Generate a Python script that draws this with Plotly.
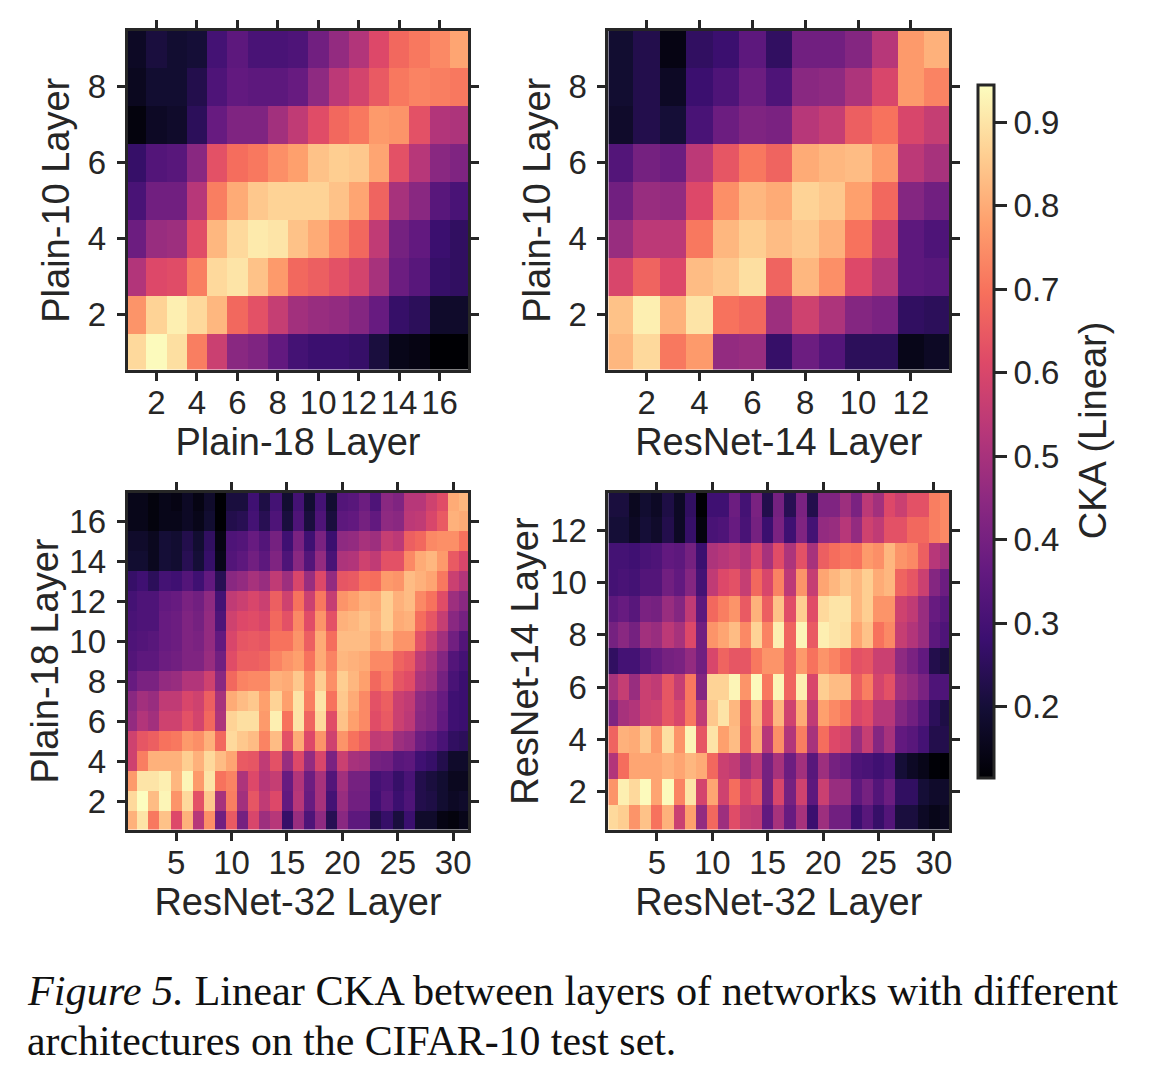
import plotly.graph_objects as go

# Rows listed top to bottom, as seen in the picture
plain10_vs_plain18 = [
 [.17,.21,.19,.20,.30,.35,.31,.31,.32,.39,.46,.52,.61,.68,.71,.74,.79],
 [.16,.19,.19,.23,.32,.36,.35,.35,.37,.45,.54,.59,.65,.71,.73,.72,.71],
 [.13,.17,.18,.25,.37,.42,.42,.49,.55,.62,.68,.71,.77,.76,.63,.52,.51],
 [.27,.33,.34,.44,.63,.69,.71,.75,.78,.84,.86,.85,.79,.63,.53,.44,.42],
 [.31,.39,.39,.53,.72,.80,.85,.87,.87,.87,.84,.79,.67,.50,.44,.34,.31],
 [.38,.47,.48,.62,.82,.88,.91,.90,.84,.80,.74,.68,.55,.40,.36,.28,.26],
 [.52,.61,.62,.72,.88,.90,.84,.77,.68,.66,.63,.59,.50,.38,.34,.27,.26],
 [.76,.87,.92,.88,.82,.68,.63,.56,.49,.47,.46,.43,.37,.27,.25,.18,.18],
 [.88,.94,.89,.72,.57,.44,.42,.36,.30,.28,.28,.27,.21,.15,.14,.115,.115],
]
plain10_vs_resnet14 = [
 [.19,.23,.14,.26,.28,.35,.26,.39,.39,.43,.53,.77,.81],
 [.19,.23,.17,.28,.32,.38,.32,.44,.45,.51,.60,.77,.73],
 [.18,.23,.20,.31,.38,.42,.41,.53,.56,.66,.70,.60,.56],
 [.33,.40,.38,.54,.64,.71,.67,.80,.82,.83,.77,.54,.50],
 [.39,.47,.46,.61,.75,.82,.80,.87,.85,.78,.68,.43,.39],
 [.47,.54,.54,.71,.82,.86,.83,.85,.81,.70,.59,.35,.32],
 [.60,.67,.61,.83,.85,.89,.67,.82,.75,.61,.53,.35,.34],
 [.84,.92,.81,.90,.70,.68,.48,.58,.51,.43,.41,.26,.25],
 [.82,.88,.71,.77,.46,.47,.27,.38,.33,.25,.25,.15,.17],
]
plain18_vs_resnet32 = [
 [.15,.15,.13,.15,.14,.17,.14,.18,.115,.21,.21,.29,.22,.30,.19,.30,.19,.30,.19,.33,.34,.38,.32,.44,.42,.53,.53,.58,.62,.80,.82],
 [.15,.15,.13,.15,.15,.17,.15,.19,.115,.23,.24,.30,.24,.32,.21,.32,.21,.32,.21,.35,.36,.40,.36,.45,.44,.54,.55,.60,.65,.81,.80],
 [.18,.18,.16,.20,.19,.23,.19,.26,.14,.32,.33,.37,.33,.40,.29,.41,.29,.41,.28,.45,.46,.50,.48,.56,.54,.66,.68,.74,.75,.75,.70],
 [.19,.19,.16,.20,.19,.24,.20,.27,.15,.33,.35,.39,.35,.42,.32,.44,.33,.46,.31,.51,.52,.58,.55,.63,.63,.74,.80,.82,.77,.65,.60],
 [.27,.29,.25,.30,.29,.33,.29,.36,.24,.44,.46,.50,.47,.55,.48,.60,.47,.61,.46,.64,.65,.70,.69,.77,.76,.83,.81,.79,.71,.57,.52],
 [.30,.32,.32,.36,.37,.41,.39,.45,.30,.55,.57,.60,.57,.66,.58,.70,.57,.71,.56,.76,.78,.81,.80,.86,.81,.83,.74,.70,.62,.48,.44],
 [.31,.32,.32,.37,.38,.42,.40,.46,.32,.58,.61,.62,.60,.68,.63,.74,.62,.76,.63,.81,.82,.84,.81,.86,.80,.81,.69,.64,.56,.44,.40],
 [.32,.33,.34,.37,.38,.42,.41,.46,.36,.60,.64,.65,.64,.70,.70,.76,.66,.80,.69,.83,.83,.83,.79,.82,.76,.76,.63,.56,.49,.39,.33],
 [.33,.35,.35,.38,.39,.42,.42,.47,.39,.62,.66,.66,.67,.73,.76,.78,.70,.80,.73,.82,.81,.80,.74,.74,.67,.65,.55,.50,.43,.33,.30],
 [.37,.41,.41,.46,.47,.52,.52,.58,.44,.68,.73,.74,.74,.81,.80,.85,.74,.86,.75,.86,.82,.78,.68,.72,.64,.62,.51,.48,.40,.31,.28],
 [.44,.49,.47,.55,.55,.60,.58,.66,.50,.80,.83,.85,.78,.87,.78,.90,.72,.90,.70,.85,.80,.74,.63,.66,.57,.55,.45,.42,.37,.29,.28],
 [.46,.52,.49,.58,.58,.63,.59,.68,.51,.87,.89,.89,.77,.92,.70,.90,.67,.88,.62,.84,.78,.74,.62,.65,.57,.54,.44,.42,.36,.29,.28],
 [.58,.64,.66,.70,.71,.77,.75,.81,.68,.88,.85,.83,.73,.83,.63,.80,.61,.76,.58,.76,.70,.66,.55,.56,.48,.46,.38,.35,.31,.26,.25],
 [.58,.72,.81,.81,.81,.86,.81,.88,.83,.79,.65,.64,.55,.63,.47,.61,.46,.60,.41,.57,.50,.49,.40,.39,.34,.35,.29,.27,.23,.18,.18],
 [.77,.90,.90,.92,.82,.93,.77,.90,.70,.73,.51,.61,.53,.56,.37,.52,.38,.50,.33,.49,.40,.40,.30,.32,.27,.31,.23,.21,.19,.16,.16],
 [.88,.945,.83,.93,.76,.88,.63,.85,.50,.72,.49,.64,.55,.61,.36,.53,.37,.50,.30,.47,.39,.39,.29,.34,.28,.32,.23,.22,.19,.17,.18],
 [.81,.90,.71,.84,.61,.81,.53,.75,.39,.65,.40,.60,.48,.53,.27,.47,.32,.45,.24,.44,.35,.35,.23,.27,.21,.28,.18,.18,.14,.13,.15],
]
resnet14_vs_resnet32 = [
 [.21,.21,.16,.19,.17,.22,.17,.26,.115,.29,.29,.38,.30,.41,.23,.40,.24,.41,.23,.42,.42,.48,.41,.54,.49,.61,.57,.63,.63,.72,.74],
 [.20,.20,.17,.20,.18,.23,.17,.27,.13,.31,.32,.37,.31,.40,.28,.41,.29,.42,.30,.46,.47,.53,.46,.58,.55,.63,.63,.68,.68,.72,.74],
 [.30,.30,.29,.31,.32,.36,.35,.40,.28,.51,.53,.55,.52,.60,.50,.62,.51,.63,.50,.66,.69,.71,.70,.77,.75,.82,.76,.74,.66,.53,.49],
 [.30,.31,.30,.33,.33,.39,.36,.43,.30,.55,.61,.63,.56,.68,.60,.73,.54,.76,.56,.79,.82,.85,.82,.86,.80,.82,.67,.64,.57,.43,.38],
 [.35,.37,.34,.41,.40,.47,.43,.55,.35,.68,.72,.76,.65,.81,.66,.84,.62,.86,.62,.88,.90,.90,.82,.86,.76,.76,.58,.55,.47,.37,.34],
 [.40,.44,.40,.49,.47,.54,.50,.61,.39,.76,.79,.83,.74,.87,.73,.92,.67,.93,.65,.92,.90,.89,.79,.84,.70,.74,.56,.52,.47,.35,.32],
 [.26,.30,.30,.34,.37,.40,.41,.46,.39,.60,.67,.64,.64,.71,.76,.76,.67,.77,.70,.76,.73,.69,.63,.64,.57,.57,.45,.41,.36,.23,.21],
 [.50,.56,.47,.57,.55,.64,.56,.71,.43,.87,.87,.93,.76,.94,.71,.93,.67,.92,.60,.86,.83,.83,.66,.72,.59,.63,.49,.46,.41,.32,.32],
 [.42,.50,.52,.57,.58,.64,.60,.71,.55,.85,.90,.82,.66,.82,.63,.82,.58,.80,.55,.78,.74,.71,.60,.62,.53,.53,.43,.39,.34,.25,.22],
 [.67,.81,.80,.85,.77,.89,.76,.93,.64,.90,.78,.83,.65,.80,.53,.75,.52,.72,.50,.69,.61,.59,.47,.56,.43,.50,.36,.34,.30,.23,.23],
 [.52,.69,.79,.79,.79,.81,.79,.82,.80,.68,.57,.55,.48,.54,.40,.50,.38,.49,.34,.48,.40,.38,.32,.31,.29,.31,.20,.17,.15,.12,.115],
 [.76,.92,.88,.94,.79,.94,.73,.90,.59,.79,.58,.69,.60,.64,.40,.60,.40,.58,.35,.57,.47,.47,.35,.40,.33,.38,.26,.26,.20,.18,.18],
 [.88,.86,.76,.84,.70,.81,.57,.78,.46,.68,.48,.62,.56,.55,.36,.50,.37,.50,.28,.48,.39,.39,.28,.34,.27,.33,.21,.21,.17,.15,.16],
]

titles_x = ["Plain-18 Layer", "ResNet-14 Layer", "ResNet-32 Layer", "ResNet-32 Layer"]
titles_y = ["Plain-10 Layer", "Plain-10 Layer", "Plain-18 Layer", "ResNet-14 Layer"]
ticks_x = [list(range(2, 17, 2)), list(range(2, 13, 2)), list(range(5, 31, 5)), list(range(5, 31, 5))]
ticks_y = [[2, 4, 6, 8], [2, 4, 6, 8], list(range(2, 17, 2)), list(range(2, 13, 2))]
colorbar_ticks = [.2, .3, .4, .5, .6, .7, .8, .9]
panels = [plain10_vs_plain18, plain10_vs_resnet14, plain18_vs_resnet32, resnet14_vs_resnet32]

W, H = 1166, 1070
INK = "#262626"
FONT = "Liberation Sans"
boxes = [(120, 461.5, 23, 361.5), (602, 943.5, 23, 361.5),
         (120, 461.5, 484.5, 821.5), (602, 943.5, 484.5, 821.5)]
y_title_standoff = [7, 7, 0, 0]

magma = ["#000004", "#140e36", "#3b0f70", "#641a80", "#8c2981", "#b73779",
         "#de4968", "#f7705c", "#fe9f6d", "#fecf92", "#fcfdbf"]
scale = [[i / 10, c] for i, c in enumerate(magma)]

fig = go.Figure()
layout = {}
for i, rows in enumerate(panels):
    n = "" if i == 0 else str(i + 1)
    nx, ny = len(rows[0]), len(rows)
    fig.add_trace(go.Heatmap(z=rows[::-1], x=list(range(1, nx + 1)), y=list(range(1, ny + 1)),
                             coloraxis="coloraxis", xaxis="x" + n, yaxis="y" + n))
    x0, x1, y0, y1 = boxes[i]
    # the frame sits on top of the outermost 1.5 px of the image, so the range is inset by that much
    inset_x = 1.5 / ((x1 - x0 + 3) / nx)
    inset_y = 1.5 / ((y1 - y0 + 3) / ny)
    common = dict(showgrid=False, zeroline=False, showline=True, linecolor=INK, linewidth=3,
                  mirror="ticks", ticks="outside", ticklen=8, tickwidth=3, tickcolor=INK,
                  tickfont=dict(family=FONT, size=33, color=INK), tickangle=0)
    layout["xaxis" + n] = dict(common, domain=[x0 / W, x1 / W], anchor="y" + n,
                               range=[.5 + inset_x, nx + .5 - inset_x], tickvals=ticks_x[i],
                               ticklabelstandoff=-6,
                               title=dict(text=titles_x[i], standoff=6,
                                          font=dict(family=FONT, size=38, color=INK)))
    layout["yaxis" + n] = dict(common, domain=[1 - y1 / H, 1 - y0 / H], anchor="x" + n,
                               range=[.5 + inset_y, ny + .5 - inset_y], tickvals=ticks_y[i],
                               ticklabelstandoff=4,
                               title=dict(text=titles_y[i], standoff=y_title_standoff[i],
                                          font=dict(family=FONT, size=38, color=INK)))

fig.update_layout(
    width=W, height=H, margin=dict(l=0, r=0, t=0, b=0),
    paper_bgcolor="white", plot_bgcolor="white",
    coloraxis=dict(colorscale=scale, cmin=.115, cmax=.945,
                   colorbar=dict(x=973 / W, xanchor="left", xref="paper", thickness=16,
                                 xpad=0, ypad=0,
                                 y=1 - 423 / H, yanchor="middle", lenmode="pixels", len=693,
                                 outlinewidth=3, outlinecolor=INK, ticks="outside", ticklen=12,
                                 tickwidth=3, tickcolor=INK, tickvals=colorbar_ticks,
                                 tickformat=".1f",
                                 tickfont=dict(family=FONT, size=33, color=INK))),
    annotations=[
        dict(text="CKA (Linear)", textangle=-90,
             x=1088 / W, y=1 - 422 / H, xref="paper", yref="paper", xanchor="center", yanchor="middle",
             showarrow=False, font=dict(family=FONT, size=38, color=INK)),
        dict(text="<i>Figure 5.</i> Linear CKA between layers of networks with different",
             x=17 / W, y=1 - 982 / H, xref="paper", yref="paper", xanchor="left", yanchor="middle",
             showarrow=False, font=dict(family="Liberation Serif", size=42.3, color="#111111")),
        dict(text="architectures on the CIFAR-10 test set.",
             x=17 / W, y=1 - 1033 / H, xref="paper", yref="paper", xanchor="left", yanchor="middle",
             showarrow=False, font=dict(family="Liberation Serif", size=41.8, color="#111111")),
    ],
    **layout,
)
fig.write_html("out.html")
